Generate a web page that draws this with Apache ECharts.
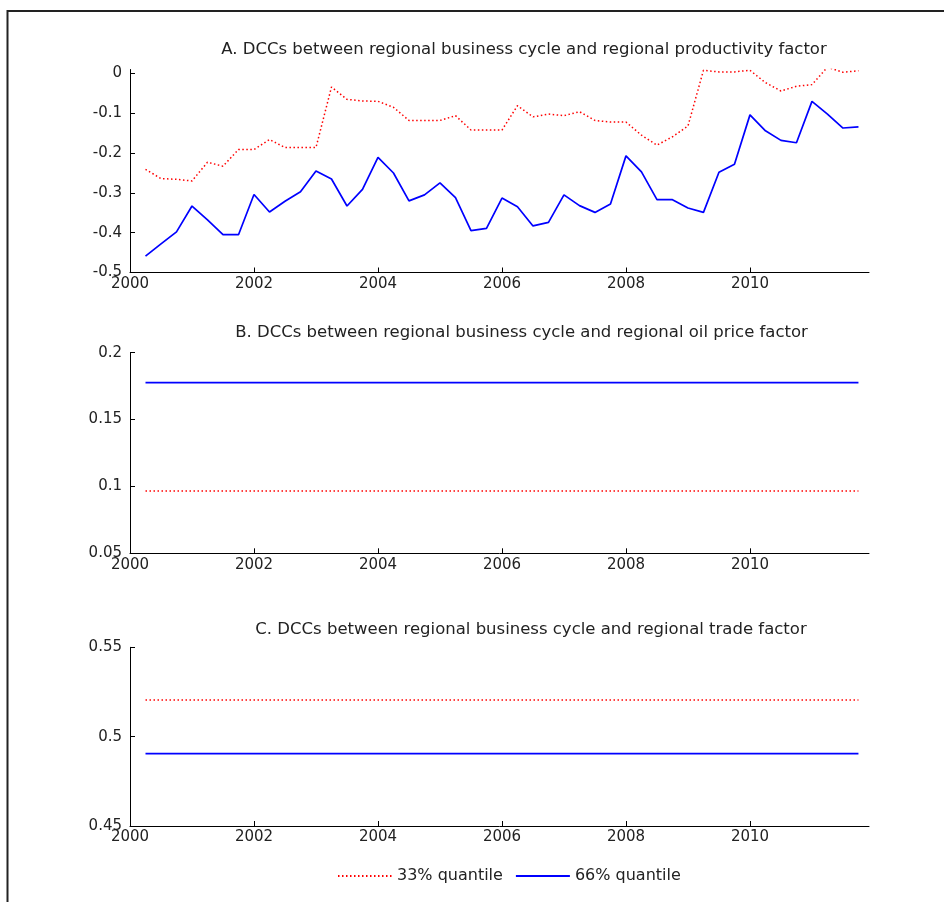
<!DOCTYPE html>
<html>
<head>
<meta charset="utf-8">
<script src="https://cdn.jsdelivr.net/npm/echarts@6/dist/echarts.min.js"></script>
<style>
html,body{margin:0;padding:0;background:#fff;}
#chart{width:944px;height:902px;}
</style>
</head>
<body>
<div id="chart"></div>
<script>
const quarters = [2000.25,2000.5,2000.75,
  2001.0,2001.25,2001.5,2001.75,
  2002.0,2002.25,2002.5,2002.75,
  2003.0,2003.25,2003.5,2003.75,
  2004.0,2004.25,2004.5,2004.75,
  2005.0,2005.25,2005.5,2005.75,
  2006.0,2006.25,2006.5,2006.75,
  2007.0,2007.25,2007.5,2007.75,
  2008.0,2008.25,2008.5,2008.75,
  2009.0,2009.25,2009.5,2009.75,
  2010.0,2010.25,2010.5,2010.75,
  2011.0,2011.25,2011.5,2011.75];

// Panel A: productivity factor
const prodQ33 = [-0.241,-0.264,-0.266,
  -0.270,-0.223,-0.233,-0.191,
  -0.191,-0.166,-0.186,-0.186,
  -0.186,-0.034,-0.065,-0.069,
  -0.070,-0.085,-0.118,-0.118,
  -0.118,-0.106,-0.142,-0.142,
  -0.142,-0.081,-0.109,-0.102,
  -0.106,-0.096,-0.118,-0.122,
  -0.122,-0.155,-0.180,-0.159,
  -0.132,0.008,0.004,0.004,
  0.008,-0.023,-0.044,-0.032,
  -0.028,0.016,0.003,0.007];
const prodQ66 = [-0.459,-0.428,-0.398,
  -0.333,-0.368,-0.405,-0.405,
  -0.304,-0.348,-0.321,-0.297,
  -0.245,-0.265,-0.333,-0.291,
  -0.211,-0.250,-0.320,-0.305,
  -0.275,-0.312,-0.395,-0.389,
  -0.313,-0.335,-0.383,-0.374,
  -0.305,-0.332,-0.349,-0.328,
  -0.207,-0.247,-0.317,-0.317,
  -0.338,-0.349,-0.248,-0.228,
  -0.104,-0.144,-0.168,-0.174,
  -0.070,-0.102,-0.137,-0.134];

// Panel B: oil price factor (constant)
const oilQ33 = [0.0966,0.0966,0.0966,
  0.0966,0.0966,0.0966,0.0966, 0.0966,0.0966,0.0966,0.0966,
  0.0966,0.0966,0.0966,0.0966, 0.0966,0.0966,0.0966,0.0966,
  0.0966,0.0966,0.0966,0.0966, 0.0966,0.0966,0.0966,0.0966,
  0.0966,0.0966,0.0966,0.0966, 0.0966,0.0966,0.0966,0.0966,
  0.0966,0.0966,0.0966,0.0966, 0.0966,0.0966,0.0966,0.0966,
  0.0966,0.0966,0.0966,0.0966];
const oilQ66 = [0.1776,0.1776,0.1776,
  0.1776,0.1776,0.1776,0.1776, 0.1776,0.1776,0.1776,0.1776,
  0.1776,0.1776,0.1776,0.1776, 0.1776,0.1776,0.1776,0.1776,
  0.1776,0.1776,0.1776,0.1776, 0.1776,0.1776,0.1776,0.1776,
  0.1776,0.1776,0.1776,0.1776, 0.1776,0.1776,0.1776,0.1776,
  0.1776,0.1776,0.1776,0.1776, 0.1776,0.1776,0.1776,0.1776,
  0.1776,0.1776,0.1776,0.1776];

// Panel C: trade factor (constant)
const tradeQ33 = [0.5205,0.5205,0.5205,
  0.5205,0.5205,0.5205,0.5205, 0.5205,0.5205,0.5205,0.5205,
  0.5205,0.5205,0.5205,0.5205, 0.5205,0.5205,0.5205,0.5205,
  0.5205,0.5205,0.5205,0.5205, 0.5205,0.5205,0.5205,0.5205,
  0.5205,0.5205,0.5205,0.5205, 0.5205,0.5205,0.5205,0.5205,
  0.5205,0.5205,0.5205,0.5205, 0.5205,0.5205,0.5205,0.5205,
  0.5205,0.5205,0.5205,0.5205];
const tradeQ66 = [0.4905,0.4905,0.4905,
  0.4905,0.4905,0.4905,0.4905, 0.4905,0.4905,0.4905,0.4905,
  0.4905,0.4905,0.4905,0.4905, 0.4905,0.4905,0.4905,0.4905,
  0.4905,0.4905,0.4905,0.4905, 0.4905,0.4905,0.4905,0.4905,
  0.4905,0.4905,0.4905,0.4905, 0.4905,0.4905,0.4905,0.4905,
  0.4905,0.4905,0.4905,0.4905, 0.4905,0.4905,0.4905,0.4905,
  0.4905,0.4905,0.4905,0.4905];

const xTicks = [2000,2002,2004,2006,2008,2010];
const yTicksA = [-0.5,-0.4,-0.3,-0.2,-0.1,0];
const yTicksB = [0.05,0.1,0.15,0.2];
const yTicksC = [0.45,0.5,0.55];

const panelTitles = [
  'A. DCCs between regional business cycle and regional productivity factor',
  'B. DCCs between regional business cycle and regional oil price factor',
  'C. DCCs between regional business cycle and regional trade factor'
];
const seriesNames = ['33% quantile','66% quantile'];

const FONT = '"DejaVu Sans", sans-serif';
const TXT = '#222';

function pairs(vals){ return quarters.map((q,i)=>[q, vals[i]]); }

function xAxis(gi){
  return {
    type:'value', gridIndex:gi, min:2000, max:2011.92, interval:2,
    axisLine:{show:true, onZero:false, lineStyle:{color:'#000', width:1}},
    axisTick:{show:true, inside:true, length:5, customValues:xTicks, lineStyle:{color:'#000'}},
    axisLabel:{customValues:xTicks, color:TXT, fontSize:15, fontFamily:FONT, margin:4,
      formatter:v=>String(Math.round(v))},
    splitLine:{show:false}
  };
}
function yAxis(gi, min, max, interval, ticks){
  return {
    type:'value', gridIndex:gi, min:min, max:max, interval:interval,
    axisLine:{show:true, onZero:false, lineStyle:{color:'#000', width:1}},
    axisTick:{show:true, inside:true, length:5, customValues:ticks, lineStyle:{color:'#000'}},
    axisLabel:{customValues:ticks, color:TXT, fontSize:15, fontFamily:FONT, margin:8,
      formatter:v=>String(parseFloat(v.toFixed(4)))},
    splitLine:{show:false}
  };
}
function redSeries(gi, vals){
  return {name:seriesNames[0], type:'line', xAxisIndex:gi, yAxisIndex:gi, data:pairs(vals),
    symbol:'none', clip:true, lineStyle:{color:'#ff0000', width:1.5, type:[1.5,2.5]}, itemStyle:{color:'#ff0000'}, z:2};
}
function blueSeries(gi, vals){
  return {name:seriesNames[1], type:'line', xAxisIndex:gi, yAxisIndex:gi, data:pairs(vals),
    symbol:'none', clip:true, lineStyle:{color:'#0000ff', width:1.7, type:'solid'}, itemStyle:{color:'#0000ff'}, z:3};
}

const chart = echarts.init(document.getElementById('chart'), null, {renderer:'canvas'});
chart.setOption({
  backgroundColor:'#fff',
  animation:false,
  grid:[
    {left:130, right:75, top:69.5, height:203},
    {left:130, right:75, top:352.7, height:200.6},
    {left:130, right:75, top:647.3, height:178.7}
  ],
  xAxis:[xAxis(0), xAxis(1), xAxis(2)],
  yAxis:[
    yAxis(0, -0.5, 0.01, 0.1, yTicksA),
    yAxis(1, 0.05, 0.2, 0.05, yTicksB),
    yAxis(2, 0.45, 0.55, 0.05, yTicksC)
  ],
  legend:{
    data:seriesNames, left:337, top:868, padding:0, itemWidth:54, itemHeight:14, itemGap:12,
    itemStyle:{color:'transparent', borderWidth:0, opacity:0},
    textStyle:{color:TXT, fontSize:16, fontFamily:FONT}
  },
  graphic:[
    {type:'rect', shape:{x:7.5, y:11, width:1000, height:1000}, style:{fill:null, stroke:'#222', lineWidth:2}, silent:true},
    {type:'text', style:{x:524, y:50, text:panelTitles[0], textAlign:'center', textVerticalAlign:'middle', font:'16.5px '+FONT, fill:TXT}},
    {type:'text', style:{x:521.5, y:333, text:panelTitles[1], textAlign:'center', textVerticalAlign:'middle', font:'16.5px '+FONT, fill:TXT}},
    {type:'text', style:{x:531, y:630, text:panelTitles[2], textAlign:'center', textVerticalAlign:'middle', font:'16.5px '+FONT, fill:TXT}}
  ],
  series:[
    redSeries(0, prodQ33), blueSeries(0, prodQ66),
    redSeries(1, oilQ33), blueSeries(1, oilQ66),
    redSeries(2, tradeQ33), blueSeries(2, tradeQ66)
  ]
});
</script>
</body>
</html>
